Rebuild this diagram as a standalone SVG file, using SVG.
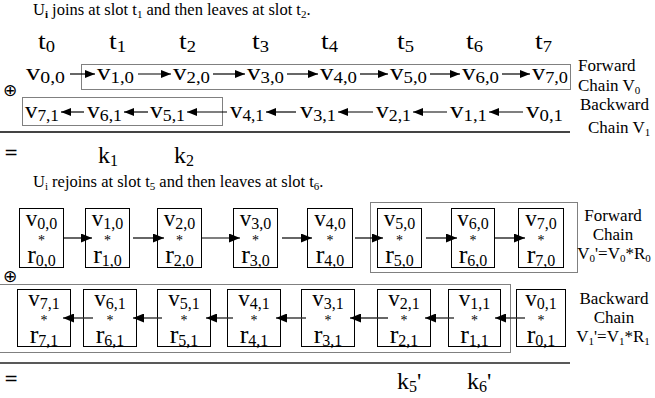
<svg xmlns="http://www.w3.org/2000/svg" width="655" height="398" viewBox="0 0 655 398">
<defs>
<marker id="ah" markerWidth="10" markerHeight="8" refX="10" refY="4" orient="auto" markerUnits="userSpaceOnUse"><path d="M0,0 L10,4 L0,8 Z" fill="#000"/></marker>
<marker id="ah2" markerWidth="11" markerHeight="9" refX="11" refY="4.5" orient="auto" markerUnits="userSpaceOnUse"><path d="M0,0 L11,4.5 L0,9 Z" fill="#000"/></marker>
<style>
text{font-family:"Liberation Serif","Times New Roman",serif;fill:#000}
.cap{font-size:16.5px}
.t{font-size:24px}
.v{font-size:23px}
.bv{font-size:23px}
.br{font-size:26px}
.sub{font-size:16px}
.lbl{font-size:17px}
.lsub{font-size:11px}
.sym{font-family:"DejaVu Sans",sans-serif;font-size:17px}
.node rect{fill:#fff;stroke:#000;stroke-width:1}
.gray{fill:none;stroke:#808080;stroke-width:1}
.arr{stroke:#000;stroke-width:1.2;fill:none}
.barr{stroke:#333;stroke-width:1.4;fill:none}
.ast{font-size:14px}
</style>
</defs>

<text class="cap" x="33" y="15">U<tspan class="lsub" dy="3" font-weight="bold">i</tspan><tspan dy="-3"> joins at slot t</tspan><tspan class="lsub" dy="3">1</tspan><tspan dy="-3"> and then leaves at slot t</tspan><tspan class="lsub" dy="3">2</tspan><tspan dy="-3">.</tspan></text>

<g id="slots">
<text class="t" x="38" y="49" textLength="17" lengthAdjust="spacingAndGlyphs">t<tspan class="sub" font-size="17" dy="3">0</tspan></text>
<text class="t" x="109" y="49" textLength="17" lengthAdjust="spacingAndGlyphs">t<tspan class="sub" font-size="17" dy="3">1</tspan></text>
<text class="t" x="179" y="49" textLength="17" lengthAdjust="spacingAndGlyphs">t<tspan class="sub" font-size="17" dy="3">2</tspan></text>
<text class="t" x="252" y="49" textLength="17" lengthAdjust="spacingAndGlyphs">t<tspan class="sub" font-size="17" dy="3">3</tspan></text>
<text class="t" x="321" y="49" textLength="17" lengthAdjust="spacingAndGlyphs">t<tspan class="sub" font-size="17" dy="3">4</tspan></text>
<text class="t" x="397" y="49" textLength="17" lengthAdjust="spacingAndGlyphs">t<tspan class="sub" font-size="17" dy="3">5</tspan></text>
<text class="t" x="466" y="49" textLength="17" lengthAdjust="spacingAndGlyphs">t<tspan class="sub" font-size="17" dy="3">6</tspan></text>
<text class="t" x="535" y="49" textLength="17" lengthAdjust="spacingAndGlyphs">t<tspan class="sub" font-size="17" dy="3">7</tspan></text>
</g>

<rect class="gray" x="81.5" y="64.5" width="489" height="25"/>
<rect class="gray" x="22.5" y="97.5" width="200" height="28"/>
<line x1="0" y1="132" x2="570" y2="132" stroke="#444" stroke-width="2.2"/>
<text class="sym" x="3" y="96">⊕</text>

<g id="fwd-row">
<text class="v" x="26" y="80" textLength="39" lengthAdjust="spacingAndGlyphs">v<tspan class="sub" dy="3">0,0</tspan></text>
<text class="v" x="97" y="80" textLength="37" lengthAdjust="spacingAndGlyphs">v<tspan class="sub" dy="3">1,0</tspan></text>
<text class="v" x="173" y="80" textLength="37" lengthAdjust="spacingAndGlyphs">v<tspan class="sub" dy="3">2,0</tspan></text>
<text class="v" x="247" y="80" textLength="37" lengthAdjust="spacingAndGlyphs">v<tspan class="sub" dy="3">3,0</tspan></text>
<text class="v" x="320" y="80" textLength="37" lengthAdjust="spacingAndGlyphs">v<tspan class="sub" dy="3">4,0</tspan></text>
<text class="v" x="390" y="80" textLength="37" lengthAdjust="spacingAndGlyphs">v<tspan class="sub" dy="3">5,0</tspan></text>
<text class="v" x="462" y="80" textLength="37" lengthAdjust="spacingAndGlyphs">v<tspan class="sub" dy="3">6,0</tspan></text>
<text class="v" x="532" y="80" textLength="36" lengthAdjust="spacingAndGlyphs">v<tspan class="sub" dy="3">7,0</tspan></text>
</g>
<text class="lbl" x="578" y="71">Forward</text>
<text class="lbl" x="578" y="91">Chain V<tspan class="lsub" dy="3">0</tspan></text>

<g id="bwd-row">
<text class="v" x="25" y="118" textLength="34" lengthAdjust="spacingAndGlyphs">v<tspan class="sub" dy="3">7,1</tspan></text>
<text class="v" x="87" y="118" textLength="35" lengthAdjust="spacingAndGlyphs">v<tspan class="sub" dy="3">6,1</tspan></text>
<text class="v" x="150" y="118" textLength="35" lengthAdjust="spacingAndGlyphs">v<tspan class="sub" dy="3">5,1</tspan></text>
<text class="v" x="230" y="118" textLength="34" lengthAdjust="spacingAndGlyphs">v<tspan class="sub" dy="3">4,1</tspan></text>
<text class="v" x="300" y="118" textLength="36" lengthAdjust="spacingAndGlyphs">v<tspan class="sub" dy="3">3,1</tspan></text>
<text class="v" x="376" y="118" textLength="35" lengthAdjust="spacingAndGlyphs">v<tspan class="sub" dy="3">2,1</tspan></text>
<text class="v" x="450" y="118" textLength="37" lengthAdjust="spacingAndGlyphs">v<tspan class="sub" dy="3">1,1</tspan></text>
<text class="v" x="526" y="118" textLength="37" lengthAdjust="spacingAndGlyphs">v<tspan class="sub" dy="3">0,1</tspan></text>
</g>
<text class="lbl" x="580" y="110">Backward</text>
<text class="lbl" x="588" y="133">Chain V<tspan class="lsub" dy="3">1</tspan></text>

<g id="top-connectors">
<line class="arr" x1="70" y1="74" x2="95" y2="74" marker-end="url(#ah)"/>
<line class="arr" x1="138" y1="74" x2="171" y2="74" marker-end="url(#ah)"/>
<line class="arr" x1="213" y1="74" x2="245" y2="74" marker-end="url(#ah)"/>
<line class="arr" x1="287" y1="74" x2="318" y2="74" marker-end="url(#ah)"/>
<line class="arr" x1="360" y1="74" x2="388" y2="74" marker-end="url(#ah)"/>
<line class="arr" x1="430" y1="74" x2="460" y2="74" marker-end="url(#ah)"/>
<line class="arr" x1="502" y1="74" x2="530" y2="74" marker-end="url(#ah)"/>
<line class="arr" x1="84" y1="112" x2="61" y2="112" marker-end="url(#ah)"/>
<line class="arr" x1="148" y1="112" x2="124" y2="112" marker-end="url(#ah)"/>
<line class="arr" x1="227" y1="112" x2="187" y2="112" marker-end="url(#ah)"/>
<line class="arr" x1="296" y1="112" x2="266" y2="112" marker-end="url(#ah)"/>
<line class="arr" x1="373" y1="112" x2="338" y2="112" marker-end="url(#ah)"/>
<line class="arr" x1="447" y1="112" x2="413" y2="112" marker-end="url(#ah)"/>
<line class="arr" x1="523" y1="112" x2="489" y2="112" marker-end="url(#ah)"/>
</g>

<text class="sym" x="4" y="158">=</text>
<text class="t" x="98" y="163" font-size="27">k<tspan class="sub" font-size="19" dy="3">1</tspan></text>
<text class="t" x="174" y="163" font-size="27">k<tspan class="sub" font-size="19" dy="3">2</tspan></text>

<text class="cap" x="33" y="187">U<tspan class="lsub" dy="3">i</tspan><tspan dy="-3"> rejoins at slot t</tspan><tspan class="lsub" dy="3">5</tspan><tspan dy="-3"> and then leaves at slot t</tspan><tspan class="lsub" dy="3">6</tspan><tspan dy="-3">.</tspan></text>

<rect class="gray" x="370.5" y="202.5" width="207" height="70"/>
<rect class="gray" x="-1" y="284.5" width="511.5" height="68"/>
<line x1="0" y1="363" x2="570" y2="363" stroke="#222" stroke-width="1.6"/>
<text class="sym" x="3" y="282">⊕</text>

<g id="n-v00" class="node"><rect x="19.5" y="208.5" width="44" height="59"/><text class="bv" x="41.5" y="226" text-anchor="middle">v<tspan class="sub" dy="3">0,0</tspan></text><text class="ast" x="41.5" y="245" text-anchor="middle">*</text><text class="br" x="41.5" y="263" text-anchor="middle">r<tspan class="sub" font-size="17" dy="3">0,0</tspan></text></g>
<g id="n-v10" class="node"><rect x="85.5" y="208.5" width="44" height="59"/><text class="bv" x="107.5" y="226" text-anchor="middle">v<tspan class="sub" dy="3">1,0</tspan></text><text class="ast" x="107.5" y="245" text-anchor="middle">*</text><text class="br" x="107.5" y="263" text-anchor="middle">r<tspan class="sub" font-size="17" dy="3">1,0</tspan></text></g>
<g id="n-v20" class="node"><rect x="157.5" y="208.5" width="44" height="59"/><text class="bv" x="179.5" y="226" text-anchor="middle">v<tspan class="sub" dy="3">2,0</tspan></text><text class="ast" x="179.5" y="245" text-anchor="middle">*</text><text class="br" x="179.5" y="263" text-anchor="middle">r<tspan class="sub" font-size="17" dy="3">2,0</tspan></text></g>
<g id="n-v30" class="node"><rect x="233.5" y="208.5" width="44" height="59"/><text class="bv" x="255.5" y="226" text-anchor="middle">v<tspan class="sub" dy="3">3,0</tspan></text><text class="ast" x="255.5" y="245" text-anchor="middle">*</text><text class="br" x="255.5" y="263" text-anchor="middle">r<tspan class="sub" font-size="17" dy="3">3,0</tspan></text></g>
<g id="n-v40" class="node"><rect x="307.5" y="208.5" width="45" height="59"/><text class="bv" x="330" y="226" text-anchor="middle">v<tspan class="sub" dy="3">4,0</tspan></text><text class="ast" x="330" y="245" text-anchor="middle">*</text><text class="br" x="330" y="263" text-anchor="middle">r<tspan class="sub" font-size="17" dy="3">4,0</tspan></text></g>
<g id="n-v50" class="node"><rect x="377.5" y="208.5" width="44" height="59"/><text class="bv" x="399.5" y="226" text-anchor="middle">v<tspan class="sub" dy="3">5,0</tspan></text><text class="ast" x="399.5" y="245" text-anchor="middle">*</text><text class="br" x="399.5" y="263" text-anchor="middle">r<tspan class="sub" font-size="17" dy="3">5,0</tspan></text></g>
<g id="n-v60" class="node"><rect x="451.5" y="208.5" width="43" height="59"/><text class="bv" x="473" y="226" text-anchor="middle">v<tspan class="sub" dy="3">6,0</tspan></text><text class="ast" x="473" y="245" text-anchor="middle">*</text><text class="br" x="473" y="263" text-anchor="middle">r<tspan class="sub" font-size="17" dy="3">6,0</tspan></text></g>
<g id="n-v70" class="node"><rect x="518.5" y="208.5" width="45" height="59"/><text class="bv" x="541" y="226" text-anchor="middle">v<tspan class="sub" dy="3">7,0</tspan></text><text class="ast" x="541" y="245" text-anchor="middle">*</text><text class="br" x="541" y="263" text-anchor="middle">r<tspan class="sub" font-size="17" dy="3">7,0</tspan></text></g>

<text class="lbl" x="613" y="221" text-anchor="middle">Forward</text>
<text class="lbl" x="613" y="240" text-anchor="middle">Chain</text>
<text class="lbl" x="614" y="259" text-anchor="middle">V<tspan class="lsub" dy="3">0</tspan><tspan dy="-3">'=V</tspan><tspan class="lsub" dy="3">0</tspan><tspan dy="-3">*R</tspan><tspan class="lsub" dy="3">0</tspan></text>

<g id="n-v71" class="node"><rect x="17.5" y="289.5" width="53" height="57"/><text class="bv" x="44" y="306" text-anchor="middle">v<tspan class="sub" dy="3">7,1</tspan></text><text class="ast" x="44" y="325" text-anchor="middle">*</text><text class="br" x="44" y="343" text-anchor="middle">r<tspan class="sub" font-size="17" dy="3">7,1</tspan></text></g>
<g id="n-v61" class="node"><rect x="83.5" y="289.5" width="53" height="57"/><text class="bv" x="110" y="306" text-anchor="middle">v<tspan class="sub" dy="3">6,1</tspan></text><text class="ast" x="110" y="325" text-anchor="middle">*</text><text class="br" x="110" y="343" text-anchor="middle">r<tspan class="sub" font-size="17" dy="3">6,1</tspan></text></g>
<g id="n-v51" class="node"><rect x="157.5" y="289.5" width="53" height="57"/><text class="bv" x="184" y="306" text-anchor="middle">v<tspan class="sub" dy="3">5,1</tspan></text><text class="ast" x="184" y="325" text-anchor="middle">*</text><text class="br" x="184" y="343" text-anchor="middle">r<tspan class="sub" font-size="17" dy="3">5,1</tspan></text></g>
<g id="n-v41" class="node"><rect x="227.5" y="289.5" width="53" height="57"/><text class="bv" x="254" y="306" text-anchor="middle">v<tspan class="sub" dy="3">4,1</tspan></text><text class="ast" x="254" y="325" text-anchor="middle">*</text><text class="br" x="254" y="343" text-anchor="middle">r<tspan class="sub" font-size="17" dy="3">4,1</tspan></text></g>
<g id="n-v31" class="node"><rect x="301.5" y="289.5" width="53" height="57"/><text class="bv" x="328" y="306" text-anchor="middle">v<tspan class="sub" dy="3">3,1</tspan></text><text class="ast" x="328" y="325" text-anchor="middle">*</text><text class="br" x="328" y="343" text-anchor="middle">r<tspan class="sub" font-size="17" dy="3">3,1</tspan></text></g>
<g id="n-v21" class="node"><rect x="377.5" y="289.5" width="53" height="57"/><text class="bv" x="404" y="306" text-anchor="middle">v<tspan class="sub" dy="3">2,1</tspan></text><text class="ast" x="404" y="325" text-anchor="middle">*</text><text class="br" x="404" y="343" text-anchor="middle">r<tspan class="sub" font-size="17" dy="3">2,1</tspan></text></g>
<g id="n-v11" class="node"><rect x="448.5" y="289.5" width="52" height="57"/><text class="bv" x="474.5" y="306" text-anchor="middle">v<tspan class="sub" dy="3">1,1</tspan></text><text class="ast" x="474.5" y="325" text-anchor="middle">*</text><text class="br" x="474.5" y="343" text-anchor="middle">r<tspan class="sub" font-size="17" dy="3">1,1</tspan></text></g>
<g id="n-v01" class="node"><rect x="516.5" y="289.5" width="49" height="57"/><text class="bv" x="541" y="306" text-anchor="middle">v<tspan class="sub" dy="3">0,1</tspan></text><text class="ast" x="541" y="325" text-anchor="middle">*</text><text class="br" x="541" y="343" text-anchor="middle">r<tspan class="sub" font-size="17" dy="3">0,1</tspan></text></g>

<text class="lbl" x="614" y="304" text-anchor="middle">Backward</text>
<text class="lbl" x="614" y="323" text-anchor="middle">Chain</text>
<text class="lbl" x="613" y="342" text-anchor="middle">V<tspan class="lsub" dy="3">1</tspan><tspan dy="-3">'=V</tspan><tspan class="lsub" dy="3">1</tspan><tspan dy="-3">*R</tspan><tspan class="lsub" dy="3">1</tspan></text>

<g id="box-connectors">
<line class="arr" x1="63" y1="238" x2="92" y2="238" marker-end="url(#ah2)"/>
<line class="arr" x1="133" y1="238" x2="164" y2="238" marker-end="url(#ah2)"/>
<line class="arr" x1="201" y1="238" x2="240" y2="238" marker-end="url(#ah2)"/>
<line class="arr" x1="282" y1="238" x2="312" y2="238" marker-end="url(#ah2)"/>
<line class="arr" x1="355" y1="238" x2="383" y2="238" marker-end="url(#ah2)"/>
<line class="arr" x1="426" y1="238" x2="457" y2="238" marker-end="url(#ah2)"/>
<line class="arr" x1="495" y1="238" x2="525" y2="238" marker-end="url(#ah2)"/>
<line class="barr" x1="93" y1="318" x2="63" y2="318" marker-end="url(#ah2)"/>
<line class="barr" x1="162" y1="318" x2="133" y2="318" marker-end="url(#ah2)"/>
<line class="barr" x1="233" y1="318" x2="206" y2="318" marker-end="url(#ah2)"/>
<line class="barr" x1="306" y1="318" x2="276" y2="318" marker-end="url(#ah2)"/>
<line class="barr" x1="388" y1="318" x2="350" y2="318" marker-end="url(#ah2)"/>
<line class="barr" x1="454" y1="318" x2="425" y2="318" marker-end="url(#ah2)"/>
<line class="barr" x1="525" y1="318" x2="495" y2="318" marker-end="url(#ah2)"/>
</g>

<text class="sym" x="4" y="384">=</text>
<text class="t" x="397" y="389" font-size="27">k<tspan class="sub" font-size="19" dy="3">5</tspan><tspan dy="-3">'</tspan></text>
<text class="t" x="467" y="389" font-size="27">k<tspan class="sub" font-size="19" dy="3">6</tspan><tspan dy="-3">'</tspan></text>
</svg>
